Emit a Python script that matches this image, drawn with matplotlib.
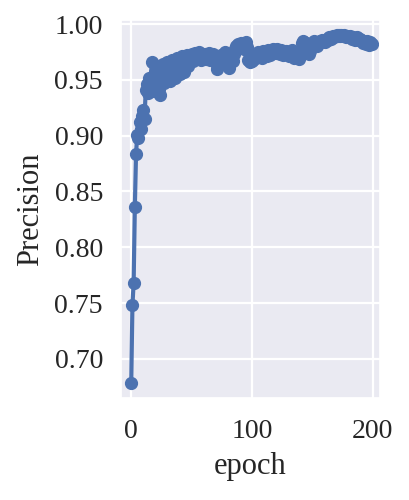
import matplotlib
matplotlib.use("Agg")
import matplotlib.pyplot as plt
import seaborn as sns
import numpy as np

precision = [
    0.678, 0.748, 0.768, 0.836, 0.884, 0.901, 0.898, 0.912, 0.906, 0.918,
    0.923, 0.915, 0.941, 0.946, 0.938, 0.952, 0.944, 0.966, 0.948, 0.940,
    0.957, 0.950, 0.962, 0.942, 0.936, 0.958, 0.964, 0.947, 0.953, 0.961,
    0.966, 0.955, 0.949, 0.962, 0.968, 0.958, 0.952, 0.965, 0.970, 0.960,
    0.955, 0.966, 0.971, 0.963, 0.957, 0.968, 0.972, 0.962, 0.966, 0.970,
    0.973, 0.967, 0.971, 0.974, 0.969, 0.972, 0.975, 0.970, 0.968, 0.972,
    0.970, 0.973, 0.969, 0.971, 0.974, 0.968, 0.972, 0.970, 0.973, 0.969,
    0.965, 0.960, 0.963, 0.968, 0.972, 0.966, 0.970, 0.973, 0.975, 0.969,
    0.964, 0.961, 0.966, 0.970, 0.967, 0.973, 0.978, 0.980, 0.982, 0.979,
    0.981, 0.983, 0.980, 0.978, 0.982, 0.984, 0.979, 0.968, 0.966, 0.970,
    0.967, 0.972, 0.969, 0.973, 0.971, 0.975, 0.972, 0.974, 0.970, 0.976,
    0.973, 0.975, 0.971, 0.977, 0.974, 0.972, 0.976, 0.978, 0.975, 0.977,
    0.974, 0.978, 0.976, 0.973, 0.977, 0.975, 0.972, 0.974, 0.976, 0.973,
    0.975, 0.971, 0.974, 0.977, 0.973, 0.970, 0.972, 0.975, 0.971, 0.969,
    0.973, 0.983, 0.985, 0.984, 0.980, 0.977, 0.975, 0.973, 0.976, 0.981,
    0.983, 0.985, 0.984, 0.982, 0.980, 0.983, 0.985, 0.984, 0.986, 0.985,
    0.984, 0.986, 0.987, 0.986, 0.988, 0.987, 0.988, 0.989, 0.988, 0.989,
    0.990, 0.989, 0.990, 0.989, 0.990, 0.989, 0.990, 0.989, 0.988, 0.989,
    0.988, 0.989, 0.988, 0.987, 0.988, 0.986, 0.987, 0.988, 0.986, 0.987,
    0.986, 0.985, 0.983, 0.984, 0.982, 0.985, 0.983, 0.981, 0.984, 0.982,
]
epochs = list(range(len(precision)))
x_ticks = [0, 100, 200]
y_ticks = [0.70, 0.75, 0.80, 0.85, 0.90, 0.95, 1.00]

sns.set_theme(style="darkgrid")
plt.rcParams['font.family'] = ['Liberation Serif', 'DejaVu Serif']

fig = plt.figure(figsize=(4.1, 5.0), dpi=100)
ax = fig.add_axes([0.295, 0.204, 0.632, 0.756])
ax.grid(True, color='white', linewidth=1.6)
ax.plot(epochs, precision, color='#4C72B0', marker='o', markersize=8.5,
        linewidth=3.0)
ax.set_xticks(x_ticks)
ax.set_yticks(y_ticks)
ax.set_yticklabels([f"{v:.2f}" for v in y_ticks])
ax.set_xlim(-8.5, 206)
ax.set_ylim(0.665, 1.0036)
ax.tick_params(axis='both', labelsize=20)
ax.tick_params(axis='y', pad=7)
ax.tick_params(axis='x', pad=9)
ax.set_xlabel("epoch", fontsize=22, labelpad=6)
ax.set_ylabel("Precision", fontsize=22, labelpad=7)
fig.savefig("out.png", dpi=100)
